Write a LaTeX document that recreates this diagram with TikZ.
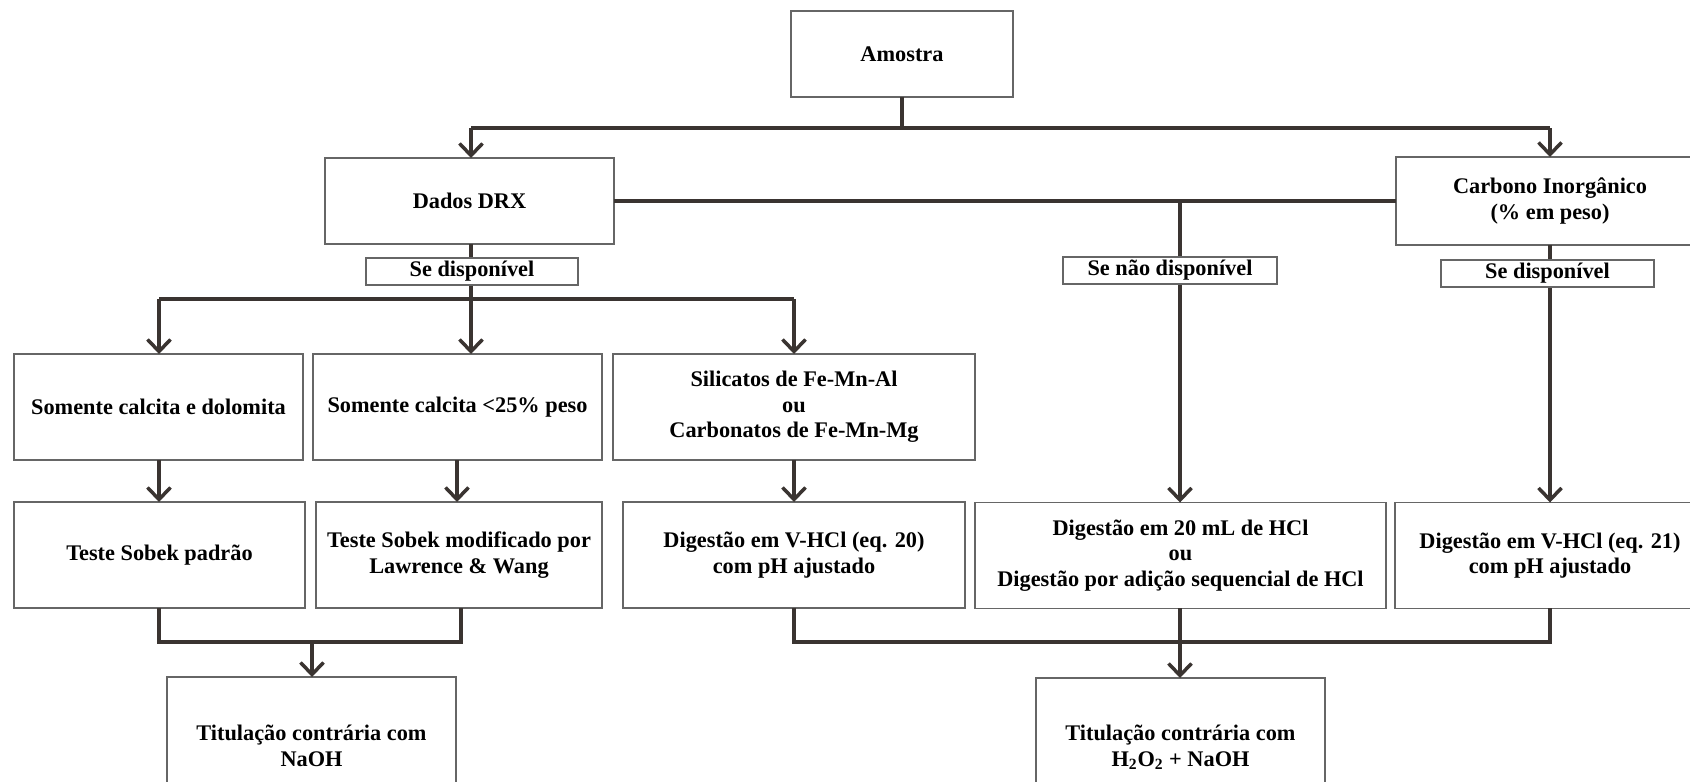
\documentclass[tikz,border=0pt]{standalone}
\usepackage{fontspec}
\setmainfont{Liberation Serif}
\usepackage{xcolor}
\usetikzlibrary{arrows.meta}
\definecolor{linecol}{HTML}{3A3431}
\definecolor{boxcol}{HTML}{666666}

\begin{document}
\begin{tikzpicture}[
    x=0.02cm, y=-0.02cm,
    every node/.style={font=\fontsize{12.7}{14.6}\selectfont\bfseries},
    box/.style={
        draw=boxcol,
        line width=0.85pt,
        align=center,
        inner sep=0pt,
        outer sep=0pt,
        minimum height=2.12cm
    },
    tag/.style={
        box,
        fill=white,
        minimum height=0.54cm
    },
    conn/.style={draw=linecol, line width=2pt},
    arrow/.style={conn, -{Straight Barb[length=2.4mm, width=4.6mm]}}
]
\useasboundingbox (0,0) rectangle (1690,781);
\clip (0,0) rectangle (1690,781);

% top
\node[box, minimum width=4.44cm, minimum height=1.72cm] (amostra) at (902,54) {Amostra};
\node[box, minimum width=5.78cm, minimum height=1.72cm] (drx) at (469.5,201) {Dados DRX};
\node[box, minimum width=6.16cm, minimum height=1.76cm] (carbono) at (1550,201) {Carbono Inorgânico\\(\% em peso)};

% second row
\node[box, minimum width=5.78cm] (calcdol) at (158.5,407) {Somente calcita e dolomita};
\node[box, minimum width=5.78cm] (calc25) at (457.5,407) {Somente calcita <25\% peso};
\node[box, minimum width=7.24cm] (silic) at (794,407) {Silicatos de Fe-Mn-Al\\ou\\Carbonatos de Fe-Mn-Mg};

% third row
\node[box, minimum width=5.82cm] (sobek) at (159.5,555) {Teste Sobek padrão};
\node[box, minimum width=5.72cm] (sobekmod) at (459,555) {Teste Sobek modificado por\\Lawrence \& Wang};
\node[box, minimum width=6.84cm] (dig20) at (794,555) {Digestão em V-HCl (eq. 20)\\com pH ajustado};
\node[box, minimum width=8.22cm] (dighcl) at (1180.5,555.5) {Digestão em 20 mL de HCl\\ou\\Digestão por adição sequencial de HCl};
\node[box, minimum width=6.2cm] (dig21) at (1550,555.5) {Digestão em V-HCl (eq. 21)\\com pH ajustado};

% bottom
\node[box, minimum width=5.78cm, minimum height=2.76cm] (titnaoh) at (311.5,746) {Titulação contrária com\\NaOH};
\node[box, minimum width=5.78cm, minimum height=2.76cm] (tith2o2) at (1180.5,747) {Titulação contrária com\\H\textsubscript{2}O\textsubscript{2} + NaOH};

\coordinate (topL) at (471,128);
\coordinate (topR) at (1550,128);
\coordinate (midL) at (159,299);
\coordinate (midC) at (471,299);
\coordinate (midR) at (794,299);
\coordinate (split) at (1180,201);
\coordinate (lowL) at (312,642);
\coordinate (lowR) at (1180,642);

\draw[conn] (amostra.south) -- (amostra.south |- topL);
\draw[conn] (topL) -- (topR);
\draw[arrow] (topL) -- (topL |- drx.north);
\draw[arrow] (topR) -- (carbono.north);

\draw[conn] (drx.east) -- (carbono.west);
\draw[arrow] (split) -- (split |- dighcl.north);

\draw[conn] (midC |- drx.south) -- (midC);
\draw[conn] (midL) -- (midR);
\draw[arrow] (midL) -- (midL |- calcdol.north);
\draw[arrow] (midC) -- (midC |- calc25.north);
\draw[arrow] (midR) -- (silic.north);

\draw[arrow] (carbono.south) -- (carbono.south |- dig21.north);

\draw[arrow] (calcdol.south -| midL) -- (midL |- sobek.north);
\draw[arrow] (457,460) -- (457,502);
\draw[arrow] (silic.south) -- (dig20.north);

\draw[conn] (159,608) |- (461,642) -- (461,608);
\draw[arrow] (lowL) -- (lowL |- titnaoh.north);
\draw[conn] (dig20.south) |- (1550,642) -- (1550,608);
\draw[conn] (dighcl.south -| lowR) -- (lowR);
\draw[arrow] (lowR) -- (lowR |- tith2o2.north);

% labels on the lines
\node[tag, minimum width=4.24cm] (sedispA) at (472,271.5) {Se disponível};
\node[tag, minimum width=4.28cm] (senao) at (1170,270.5) {Se não disponível};
\node[tag, minimum width=4.26cm] (sedispB) at (1547.5,273.5) {Se disponível};

\end{tikzpicture}
\end{document}
